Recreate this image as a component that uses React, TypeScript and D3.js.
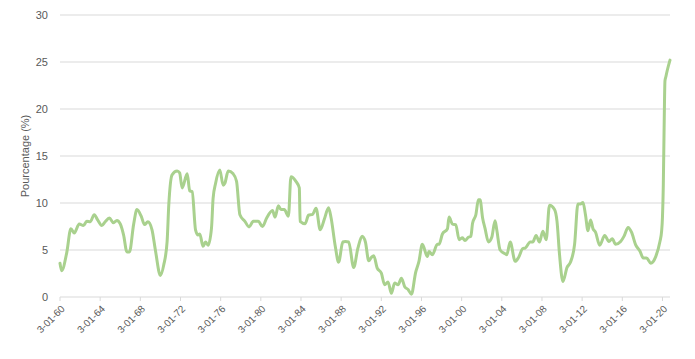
import React from "react";
import * as d3 from "d3";

const dates: string[] = [
  "1960-01","1960-03","1960-09","1961-02","1961-06","1961-12","1962-05","1962-09","1963-01","1963-06",
  "1963-10","1964-03","1964-07","1964-12","1965-05","1965-09","1966-01","1966-05","1966-09","1966-12",
  "1967-05","1967-09","1968-02","1968-06","1968-10","1969-03","1969-07","1970-01","1970-05","1970-09",
  "1970-11","1971-03","1971-09","1971-12","1972-03","1972-09","1972-12","1973-03","1973-07","1973-10",
  "1973-12","1974-04","1974-07","1974-10","1975-02","1975-04","1975-07","1975-12","1976-04","1976-06",
  "1976-10","1977-04","1977-08","1977-12","1978-06","1978-11","1979-04","1979-10","1980-03","1980-08",
  "1981-03","1981-06","1981-10","1982-01","1982-05","1982-10","1983-01","1983-07","1983-11","1983-12",
  "1984-06","1984-10","1985-03","1985-07","1985-12","1986-05","1986-10","1987-01","1987-06","1987-10",
  "1988-03","1988-06","1988-10","1989-04","1989-09","1990-02","1990-06","1990-10","1991-01","1991-04",
  "1991-08","1992-01","1992-05","1992-09","1993-01","1993-05","1993-09","1994-01","1994-05","1994-09",
  "1995-01","1995-06","1995-10","1996-02","1996-08","1996-10","1997-02","1997-08","1997-10","1998-02",
  "1998-08","1998-10","1999-02","1999-06","1999-10","2000-02","2000-05","2000-09","2000-12","2001-02",
  "2001-06","2001-09","2001-11","2002-02","2002-05","2002-09","2003-01","2003-05","2003-07","2003-11",
  "2004-05","2004-07","2004-11","2005-05","2005-09","2006-02","2006-05","2006-11","2007-02","2007-06",
  "2007-10","2008-02","2008-06","2008-10","2009-04","2009-07","2009-10","2010-02","2010-07","2010-11",
  "2011-04","2011-08","2011-11","2012-02","2012-05","2012-08","2012-11","2013-02","2013-05","2013-10",
  "2014-04","2014-09","2015-01","2015-05","2015-11","2016-03","2016-08","2016-12","2017-05","2017-10",
  "2018-02","2018-06","2018-11","2019-05","2019-10","2019-12","2020-01","2020-02","2020-03","2020-04",
  "2020-05","2020-07","2020-10",
];

const values: number[] = [
  3.6,2.8,4.7,7.27,6.8,7.77,7.6,8.05,8.0,8.75,
  8.2,7.6,8.0,8.4,7.9,8.15,7.77,6.6,4.8,4.8,
  7.7,9.3,8.6,7.7,8.0,7.15,5.0,2.3,3.4,5.9,
  9.8,13.0,13.4,13.2,11.6,13.1,11.3,11.2,7.15,6.6,
  6.7,5.4,5.85,5.5,7.3,10.5,12.1,13.5,11.9,12.1,
  13.4,13.1,12.3,8.75,8.05,7.45,8.05,8.05,7.5,8.4,
  9.2,8.5,9.7,9.3,9.3,8.6,12.8,12.3,11.6,8.05,
  7.8,8.7,8.8,9.45,7.15,8.3,9.5,8.4,5.4,3.7,
  5.85,5.9,5.85,3.15,5.2,6.45,5.85,3.85,4.2,4.4,
  3.1,2.55,1.3,1.6,0.4,1.5,1.3,2.0,1.1,0.8,
  0.3,2.6,3.8,5.6,4.3,4.85,4.5,5.6,5.6,6.7,
  7.25,8.5,7.75,7.7,6.1,6.3,6.0,6.35,6.45,7.85,
  8.75,10.35,10.35,8.4,7.3,5.85,6.35,8.1,7.15,5.0,
  4.6,4.5,5.85,3.8,4.2,5.15,5.2,5.85,5.85,6.55,
  5.85,7.0,6.1,9.75,9.3,8.05,4.5,1.65,3.15,3.7,
  5.6,9.9,9.9,10.05,8.75,7.05,8.2,7.25,6.9,5.5,
  6.55,5.9,6.2,5.6,5.9,6.45,7.4,6.9,5.55,4.9,
  4.15,4.15,3.6,4.3,5.9,7.0,8.5,12.0,18.0,23.0,
  23.4,24.2,25.2,
];

const yTicks: number[] = [0, 5, 10, 15, 20, 25, 30];
const tickYears: number[] = [1960, 1964, 1968, 1972, 1976, 1980, 1984, 1988, 1992, 1996, 2000, 2004, 2008, 2012, 2016, 2020];
const tickLabels: string[] = [
  "3-01-60","3-01-64","3-01-68","3-01-72","3-01-76","3-01-80","3-01-84","3-01-88",
  "3-01-92","3-01-96","3-01-00","3-01-04","3-01-08","3-01-12","3-01-16","3-01-20",
];
const yTitle = "Pourcentage (%)";

const W = 695;
const H = 359;
const M = { left: 60, right: 25, top: 15, bottom: 62 };

const parse = (s: string) => {
  const [y, m] = s.split("-").map(Number);
  return new Date(y, m - 1, 1);
};

export default function App() {
  React.useEffect(() => {
    document.body.style.margin = "0";
  }, []);

  const x = d3
    .scaleTime()
    .domain([new Date(1960, 0, 1), new Date(2020, 9, 1)])
    .range([M.left, W - M.right]);
  const y = d3.scaleLinear().domain([0, 30]).range([H - M.bottom, M.top]);

  const pts = dates.map((d, i) => ({ d: parse(d), v: values[i] }));
  const line = d3
    .line<{ d: Date; v: number }>()
    .x((p) => x(p.d))
    .y((p) => y(p.v))
    .curve(d3.curveMonotoneX);

  const font = "'Liberation Sans', Arial, sans-serif";
  const textColor = "#595959";
  const grid = "#D9D9D9";

  return (
    <svg width={W} height={H} style={{ display: "block", position: "absolute", left: 0, top: 0 }}>
      <rect x={0} y={0} width={W} height={H} fill="#fff" />
      {yTicks.map((t) => (
        <g key={t}>
          <line x1={M.left} x2={W - M.right} y1={y(t)} y2={y(t)} stroke={grid} strokeWidth={1} />
          <text
            x={M.left - 12}
            y={y(t)}
            dy="0.35em"
            textAnchor="end"
            fontFamily={font}
            fontSize={11}
            fill={textColor}
          >
            {t}
          </text>
        </g>
      ))}
      {tickYears.map((yr, i) => {
        const tx = x(new Date(yr, 0, 1));
        const by = y(0);
        return (
          <g key={yr}>
            <line x1={tx} x2={tx} y1={by} y2={by + 4} stroke={grid} strokeWidth={1} />
            <text
              transform={`translate(${tx + 3},${by + 10}) rotate(-45)`}
              textAnchor="end"
              fontFamily={font}
              fontSize={10}
              fill={textColor}
              dy="0.35em"
            >
              {tickLabels[i]}
            </text>
          </g>
        );
      })}
      <text
        transform={`translate(29,${(y(0) + y(30)) / 2}) rotate(-90)`}
        textAnchor="middle"
        fontFamily={font}
        fontSize={11}
        fill={textColor}
      >
        {yTitle}
      </text>
      <path
        d={line(pts) || ""}
        fill="none"
        stroke="#A9D18E"
        strokeWidth={3}
        strokeLinejoin="round"
        strokeLinecap="round"
      />
    </svg>
  );
}
